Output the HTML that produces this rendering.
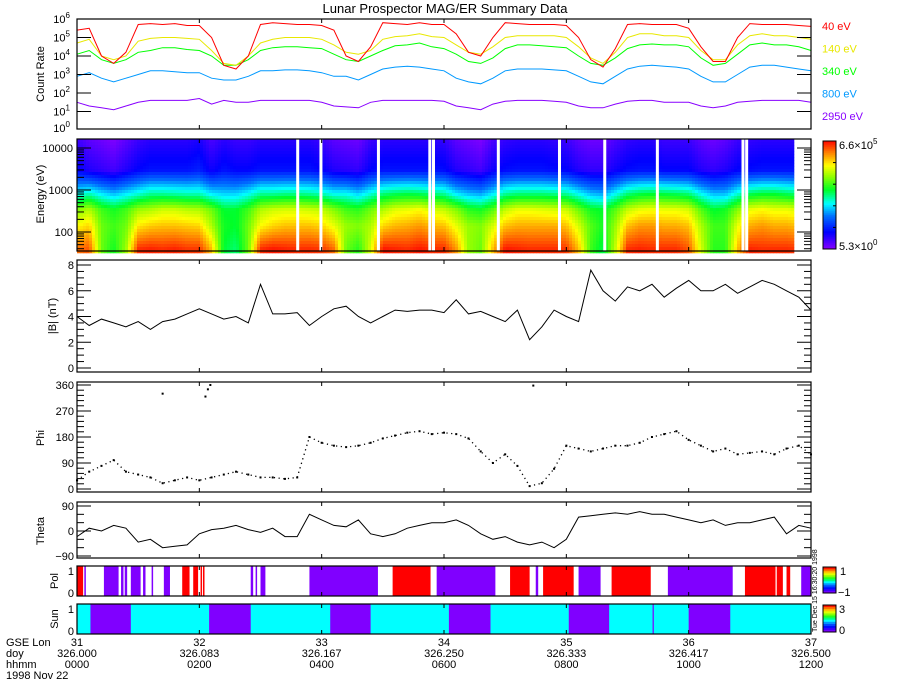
<!DOCTYPE html>
<html><head><meta charset="utf-8"><title>Lunar Prospector MAG/ER Summary Data</title>
<style>
html,body{margin:0;padding:0;background:#fff;}
svg{display:block;font-family:"Liberation Sans",sans-serif;}
text{font-size:11px;fill:#000;}
</style></head>
<body>
<svg id="chart" width="900" height="700" viewBox="0 0 900 700" xmlns="http://www.w3.org/2000/svg">
<rect x="0" y="0" width="900" height="700" fill="#fff"/>
<text x="445" y="13" text-anchor="middle" style="font-size:13px">Lunar Prospector MAG/ER Summary Data</text>
</svg>
<script>
// ---- data (x = GSE Lon, sampled every 0.1 from 31 to 37) ----
const lonStart = 31;
const lonStep = 0.1;
const energies = [40, 140, 340, 800, 2950];
const energyLabels = ["40 eV", "140 eV", "340 eV", "800 eV", "2950 eV"];
const rate40 = [5.4,5.5,4.0,3.6,4.2,5.7,5.75,5.7,5.75,5.65,5.65,5.0,3.5,3.3,4.0,5.7,5.8,5.75,5.7,5.7,5.65,5.4,4.0,3.7,4.5,5.8,5.75,5.7,5.8,5.7,5.7,5.2,4.2,4.0,5.0,5.8,5.75,5.7,5.7,5.7,5.65,5.0,3.8,3.4,4.4,5.7,5.75,5.7,5.7,5.7,5.5,4.5,3.7,3.7,5.0,5.75,5.7,5.7,5.7,5.65,5.6];
const rate140 = [4.7,4.9,4.0,3.8,4.0,4.8,4.95,5.0,5.0,4.95,4.9,4.3,3.6,3.5,4.0,4.7,4.9,5.0,5.0,5.0,4.9,4.6,4.2,4.1,4.3,4.9,5.05,5.1,5.2,5.05,5.0,4.6,4.2,4.1,4.5,5.0,5.1,5.1,5.1,5.1,5.0,4.5,3.9,3.6,4.2,5.0,5.2,5.2,5.1,5.1,5.0,4.3,3.8,3.8,4.6,5.1,5.2,5.1,5.1,5.0,4.9];
const rate340 = [4.1,4.3,3.8,3.6,3.8,4.2,4.3,4.45,4.45,4.35,4.3,4.0,3.5,3.5,3.8,4.3,4.45,4.5,4.5,4.45,4.4,4.1,3.8,3.7,4.0,4.3,4.55,4.6,4.7,4.5,4.4,4.1,3.7,3.6,3.9,4.4,4.6,4.6,4.55,4.5,4.45,4.0,3.6,3.5,3.9,4.4,4.6,4.65,4.6,4.6,4.5,3.9,3.5,3.6,4.1,4.6,4.7,4.6,4.6,4.5,4.3];
const rate800 = [2.9,3.1,2.8,2.6,2.8,3.0,3.2,3.2,3.15,3.1,3.1,2.8,2.7,2.7,2.9,3.2,3.2,3.25,3.25,3.2,3.1,2.9,2.9,2.7,3.0,3.3,3.4,3.45,3.4,3.3,3.2,2.8,2.6,2.5,2.8,3.2,3.3,3.3,3.3,3.25,3.2,2.9,2.6,2.5,2.9,3.3,3.45,3.5,3.45,3.4,3.3,2.9,2.6,2.6,3.0,3.4,3.5,3.5,3.4,3.3,3.2];
const rate2950 = [1.5,1.3,1.2,1.1,1.3,1.5,1.6,1.6,1.6,1.6,1.7,1.4,1.6,1.5,1.5,1.6,1.6,1.6,1.6,1.6,1.5,1.3,1.25,1.2,1.5,1.6,1.6,1.6,1.6,1.6,1.55,1.3,1.2,1.1,1.4,1.55,1.6,1.6,1.6,1.55,1.5,1.3,1.2,1.2,1.4,1.55,1.6,1.6,1.5,1.5,1.5,1.3,1.2,1.3,1.5,1.55,1.6,1.6,1.6,1.6,1.5];
const specGaps = [32.80, 32.99, 33.46, 33.88, 33.91, 34.44, 34.94, 35.31, 35.74, 36.44, 36.47];
const specEnd = 36.86;
const bMag = [4.0,3.3,3.8,3.5,3.2,3.6,3.0,3.6,3.8,4.2,4.6,4.2,3.8,4.0,3.5,6.5,4.2,4.2,4.3,3.3,4.0,4.6,4.8,4.0,3.5,4.0,4.5,4.4,4.5,4.5,4.3,5.3,4.2,4.4,4.0,3.6,4.5,2.2,3.2,4.5,4.0,3.6,7.6,6.0,5.2,6.3,6.0,6.5,5.5,6.2,6.8,6.0,6.0,6.5,5.8,6.3,6.8,6.5,6.0,5.5,4.5];
const phi = [30,60,80,100,60,50,40,20,30,40,30,40,50,60,50,40,40,35,40,180,160,150,145,150,160,175,185,195,200,190,195,190,175,130,90,120,80,10,20,70,150,140,130,140,150,150,160,180,190,200,170,150,130,140,120,125,130,120,140,150,120];
const phiOutlierLon = [31.70, 32.05, 32.07, 32.09, 34.73];
const phiOutlierVal = [330, 320, 345, 360, 358];
const theta = [-20,10,0,20,10,-40,-30,-60,-55,-50,-10,5,10,20,5,-5,10,-20,-20,60,40,20,15,40,-10,-20,-10,10,20,30,30,40,20,-10,-30,-20,-40,-50,-40,-60,-30,50,55,60,65,60,70,60,60,50,40,30,40,20,30,30,40,50,-10,20,10];
const polStart = [31.00,31.06,31.22,31.36,31.39,31.44,31.54,31.61,31.71,31.86,31.95,32.01,32.03,32.42,32.46,32.50,32.90,33.58,33.94,34.54,34.75,34.81,35.10,35.37,35.83,36.46,36.72,36.80,36.92];
const polEnd   = [31.05,31.07,31.34,31.38,31.41,31.52,31.56,31.62,31.76,31.92,31.99,32.02,32.04,32.44,32.47,32.54,33.46,33.89,34.42,34.70,34.77,35.06,35.28,35.69,36.36,36.71,36.77,36.83,37.00];
const polValue = [1,-1,-1,-1,-1,-1,-1,-1,-1,1,1,1,1,-1,-1,-1,-1,1,-1,1,-1,1,-1,1,-1,1,1,1,-1];
const shadowStart = [31.11, 32.08, 33.07, 34.04, 35.02, 35.705, 36.00];
const shadowEnd   = [31.44, 32.42, 33.40, 34.38, 35.35, 35.715, 36.34];
const lonTicks = [31, 32, 33, 34, 35, 36, 37];
const doyTicks = ["326.000","326.083","326.167","326.250","326.333","326.417","326.500"];
const hhmmTicks = ["0000","0200","0400","0600","0800","1000","1200"];

// ---- layout ----
const NS = "http://www.w3.org/2000/svg";
const svg = document.getElementById('chart');
const L = 77, R = 811;
function X(l){ return L + (l - 31) * (R - L) / 6; }
function mk(tag, attrs, parent){
  const e = document.createElementNS(NS, tag);
  for (const k in attrs) e.setAttribute(k, attrs[k]);
  (parent || svg).appendChild(e);
  return e;
}
function txt(x, y, s, anchor, parent, size){
  const t = mk('text', {x:x, y:y, 'text-anchor':anchor||'start'}, parent);
  if (size) t.style.fontSize = size + 'px';
  t.textContent = s;
  return t;
}
const lonAt = i => lonStart + i * lonStep;
function interp(arr, l){
  const f = (l - lonStart) / lonStep;
  const i = Math.max(0, Math.min(arr.length - 2, Math.floor(f)));
  const t = Math.max(0, Math.min(1, f - i));
  return arr[i] * (1 - t) + arr[i + 1] * t;
}
function lineFrom(arr, yf, color, name, parent){
  let d = '';
  arr.forEach((v, i) => { d += (i ? 'L' : 'M') + X(lonAt(i)).toFixed(1) + ',' + yf(v).toFixed(1); });
  const p = mk('path', {d:d, fill:'none', stroke:color, 'stroke-width':1}, parent);
  
  
  return p;
}
function frame(top, bot, name){
  const r = mk('rect', {x:L, y:top, width:R-L, height:bot-top, fill:'none', stroke:'#000', 'stroke-width':1.2});
  
  
  // x ticks
  const g = mk('g', {});
  
  
  lonTicks.forEach(l => {
    mk('line', {x1:X(l), x2:X(l), y1:bot, y2:bot-4, stroke:'#000'}, g);
    mk('line', {x1:X(l), x2:X(l), y1:top, y2:top+4, stroke:'#000'}, g);
  });
}
function yTicks(top, bot, yf, majors, minors, labels, name, labelX){
  const g = mk('g', {});
  
  
  majors.forEach((v, i) => {
    mk('line', {x1:L, x2:L+14, y1:yf(v), y2:yf(v), stroke:'#000'}, g);
    mk('line', {x1:R, x2:R-14, y1:yf(v), y2:yf(v), stroke:'#000'}, g);
    if (labels) txt(labelX || 74, yf(v) + 4, labels[i], 'end', g);
  });
  minors.forEach(v => {
    mk('line', {x1:L, x2:L+7, y1:yf(v), y2:yf(v), stroke:'#000'}, g);
    mk('line', {x1:R, x2:R-7, y1:yf(v), y2:yf(v), stroke:'#000'}, g);
  });
}
function yTitle(x, y, s, name){
  const t = txt(x, y, s, 'middle');
  t.setAttribute('transform', 'rotate(-90 ' + x + ' ' + y + ')');
  
  
}
// colormap (IDL rainbow-like)
const cmStops = [[0,[128,0,255]],[0.15,[0,0,255]],[0.3,[0,110,255]],[0.42,[0,255,255]],[0.55,[0,255,40]],[0.68,[150,255,0]],[0.78,[255,255,0]],[0.9,[255,130,0]],[1,[255,20,0]]];
function cmap(f){
  f = Math.max(0, Math.min(1, f));
  for (let i = 1; i < cmStops.length; i++){
    if (f <= cmStops[i][0]){
      const a = cmStops[i-1], b = cmStops[i], t = (f - a[0]) / (b[0] - a[0]);
      const c = a[1].map((v, k) => Math.round(v + (b[1][k] - v) * t));
      return 'rgb(' + c.join(',') + ')';
    }
  }
  return 'rgb(255,20,0)';
}

// ---- Panel 1: count rate ----
const C_TOP = 19, C_BOT = 129;
const Yc = v => 130 - v * 18.5;
const cg = mk('g', {});


const rateSeries = [rate40, rate140, rate340, rate800, rate2950];
const rateColors = ['#ff0000', '#e8e800', '#00ff00', '#0099ff', '#8800ff'];
const rateNames = ['series-40ev', 'series-140ev', 'series-340ev', 'series-800ev', 'series-2950ev'];
for (let s = rateSeries.length - 1; s >= 0; s--) lineFrom(rateSeries[s], Yc, rateColors[s], rateNames[s], cg);
frame(C_TOP, C_BOT, 'count-rate-frame');
yTicks(C_TOP, C_BOT, Yc, [1,2,3,4,5], [], null, 'count-rate-y-ticks');
(function(){
  const g = mk('g', {});
  
  
  for (let p = 0; p <= 6; p++){
    const t = txt(70, Math.min(Yc(p), 128) + 4, '10', 'end', g);
    const s = mk('tspan', {dy:-5, style:'font-size:8px'}, t);
    s.textContent = String(p);
  }
})();
yTitle(44, 74, 'Count Rate', 'count-rate-y-title');
energyLabels.forEach((s, i) => {
  const t = txt(822, 30 + i * 22.5, s, 'start');
  t.style.fill = rateColors[i];
  
  
});

// ---- Panel 2: spectrogram ----
const S_TOP = 139, S_BOT = 251;
const Ye = le => 190 - (le - 3) * 42;
const sg = mk('g', {});


const logE = energies.map(e => Math.log10(e));
function specVal(l, le){
  const vals = rateSeries.map(a => interp(a, l));
  if (le <= logE[0]) return vals[0];
  for (let k = 1; k < logE.length; k++){
    if (le <= logE[k]){ const t = (le - logE[k-1]) / (logE[k] - logE[k-1]); return vals[k-1] * (1 - t) + vals[k] * t; }
  }
  return vals[4] - (le - logE[4]) * 0.5;
}
const colW = 3, rowH = 3;
for (let px = L; px < X(specEnd); px += colW){
  const l = 31 + (px + colW / 2 - L) * 6 / (R - L);
  for (let py = S_TOP; py < S_BOT; py += rowH){
    const le = 3 - (py + rowH / 2 - 190) / 42;
    const v = specVal(l, le);
    mk('rect', {x:px, y:py, width:colW + 0.3, height:rowH + 0.3, fill:cmap((v - 0.72) / 5.1)}, sg);
  }
}
specGaps.forEach(l => {
  const r = mk('rect', {x:X(l) - 1, y:S_TOP, width:3, height:S_BOT - S_TOP, fill:'#fff'}, sg);
  
  
});
frame(S_TOP, S_BOT, 'spectrogram-frame');
(function(){
  const mj = [2, 3, 4], mn = [];
  [1, 2, 3].forEach(d => { for (let m = 2; m <= 9; m++){ const v = d + Math.log10(m); if (v > 1.57 && v < 4.24) mn.push(v); } });
  yTicks(S_TOP, S_BOT, Ye, mj, mn, ['100', '1000', '10000'], 'energy-y-ticks', 73);
})();
yTitle(44, 194, 'Energy (eV)', 'energy-y-title');
(function(){
  const g = mk('g', {});
  
  
  for (let i = 0; i < 54; i++) mk('rect', {x:823, y:249 - (i + 1) * 2, width:13, height:2.3, fill:cmap(i / 53)}, g);
  mk('rect', {x:823, y:141, width:13, height:108, fill:'none', stroke:'#000'}, g);
  [0.2, 0.4, 0.6, 0.8].forEach(f => mk('line', {x1:833, x2:836, y1:249 - f * 108, y2:249 - f * 108, stroke:'#000'}, g));
  let t = txt(839, 149, '6.6×10', 'start', g); let s = mk('tspan', {dy:-5, style:'font-size:8px'}, t); s.textContent = '5';
  t = txt(839, 250, '5.3×10', 'start', g); s = mk('tspan', {dy:-5, style:'font-size:8px'}, t); s.textContent = '0';
})();

// ---- Panel 3: |B| ----
const B_TOP = 260, B_BOT = 372;
const Yb = v => 368 - v * 12.875;
lineFrom(bMag, Yb, '#000', 'b-magnitude-line');
frame(B_TOP, B_BOT, 'b-magnitude-frame');
yTicks(B_TOP, B_BOT, Yb, [0,2,4,6,8], [0.5,1,1.5,2.5,3,3.5,4.5,5,5.5,6.5,7,7.5], ['0','2','4','6','8'], 'b-magnitude-y-ticks');
yTitle(56, 316, '|B| (nT)', 'b-magnitude-y-title');

// ---- Panel 4: Phi ----
const P_TOP = 382, P_BOT = 492;
const Yp = v => 489 - v * 0.2889;
(function(){
  const p = lineFrom(phi, Yp, '#000', 'phi-dotted-trace');
  p.setAttribute('stroke-dasharray', '1.2 3.5');
  p.setAttribute('stroke-width', '1.3');
  phi.forEach((v, i) => {
    const r = mk('rect', {x:X(lonAt(i)) - 1, y:Yp(v) - 1, width:2, height:2, fill:'#000'});
    
    
  });
  phiOutlierVal.forEach((v, i) => {
    const r = mk('rect', {x:X(phiOutlierLon[i]) - 1, y:Yp(v) - 1, width:2, height:2, fill:'#000'});
    
    
  });
})();
frame(P_TOP, P_BOT, 'phi-frame');
yTicks(P_TOP, P_BOT, Yp, [0,90,180,270,360], [18,36,54,72,108,126,144,162,198,216,234,252,288,306,324,342], ['0','90','180','270','360'], 'phi-y-ticks');
yTitle(44, 438, 'Phi', 'phi-y-title');

// ---- Panel 5: Theta ----
const T_TOP = 502, T_BOT = 558;
const Yt = v => 531 - v * 0.2778;
lineFrom(theta, Yt, '#000', 'theta-line');
frame(T_TOP, T_BOT, 'theta-frame');
yTicks(T_TOP, T_BOT, Yt, [-90,0,90], [-60,-30,30,60], ['−90','0','90'], 'theta-y-ticks');
yTitle(44, 531, 'Theta', 'theta-y-title');

// ---- Panel 6: Pol ----
const PO_TOP = 566, PO_BOT = 596;
(function(){
  const g = mk('g', {});
  
  
  polStart.forEach((s, i) => {
    const r = mk('rect', {x:X(s), y:PO_TOP, width:Math.max(1.5, X(polEnd[i]) - X(s)), height:PO_BOT - PO_TOP, fill:polValue[i] > 0 ? '#ff0000' : '#8000ff'}, g);
    
    
  });
})();
frame(PO_TOP, PO_BOT, 'polarity-frame');
txt(74, 575, '1', 'end'); txt(74, 597, '0', 'end');
yTitle(58, 581, 'Pol', 'polarity-y-title');
(function(){
  const g = mk('g', {});
  
  
  for (let i = 0; i < 13; i++) mk('rect', {x:823, y:593 - (i + 1) * 2, width:13, height:2.3, fill:cmap(i / 12)}, g);
  mk('rect', {x:823, y:567, width:13, height:26, fill:'none', stroke:'#000'}, g);
  txt(840, 575, '1', 'start', g); txt(838, 596, '−1', 'start', g);
})();

// ---- Panel 7: Sun ----
const SU_TOP = 604, SU_BOT = 634;
(function(){
  const g = mk('g', {});
  
  
  const bg = mk('rect', {x:L, y:SU_TOP, width:R - L, height:SU_BOT - SU_TOP, fill:'#00ffff'}, g);
  
  
  shadowStart.forEach((s, i) => {
    const r = mk('rect', {x:X(s), y:SU_TOP, width:Math.max(1.2, X(shadowEnd[i]) - X(s)), height:SU_BOT - SU_TOP, fill:'#8000ff'}, g);
    
    
  });
})();
frame(SU_TOP, SU_BOT, 'sun-frame');
txt(74, 613, '1', 'end'); txt(74, 635, '0', 'end');
yTitle(58, 619, 'Sun', 'sun-y-title');
(function(){
  const g = mk('g', {});
  
  
  for (let i = 0; i < 13; i++) mk('rect', {x:823, y:632 - (i + 1) * 2.1, width:13, height:2.4, fill:cmap(i / 12)}, g);
  mk('rect', {x:823, y:605, width:13, height:27, fill:'none', stroke:'#000'}, g);
  txt(839, 613, '3', 'start', g); txt(839, 634, '0', 'start', g);
})();
(function(){
  const t = txt(817, 632, 'Tue Dec 15 16:30:20 1998', 'start', null, 7);
  t.setAttribute('transform', 'rotate(-90 817 632)');
  
  
})();

// ---- bottom axis labels ----
(function(){
  const g = mk('g', {});
  
  
  txt(6, 646, 'GSE Lon', 'start', g);
  txt(6, 657, 'doy', 'start', g);
  txt(6, 668, 'hhmm', 'start', g);
  txt(6, 679, '1998 Nov 22', 'start', g);
  lonTicks.forEach((l, i) => {
    txt(X(l), 646, String(l), 'middle', g);
    txt(X(l), 657, doyTicks[i], 'middle', g);
    txt(X(l), 668, hhmmTicks[i], 'middle', g);
  });
})();
</script>
</body></html>
